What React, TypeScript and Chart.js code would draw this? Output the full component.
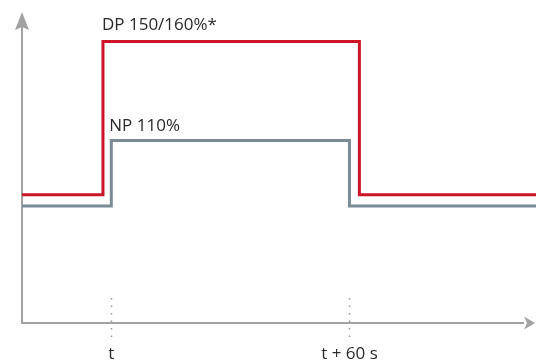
import React, { useEffect, useRef } from "react";
import { Chart, registerables } from "chart.js";

Chart.register(...registerables);

// Time axis (seconds relative to t)
const xRange = [-22.5, 107];
const levelRange = [0, 100];

// DP step series (time, level)
const dpTimes = [-22.5, -2.1, 62.5, 107];
const dpLevels = [41.2, 90.5, 41.2, 41.2];

// NP step series (time, level)
const npTimes = [-22.5, 0, 60, 107];
const npLevels = [37.6, 58.7, 37.6, 37.6];

// Marker ticks on time axis
const tickValues = [0, 60];
const tickLabels = ["t", "t + 60 s"];

// Series labels
const dpLabel = "DP 150/160%*";
const npLabel = "NP 110%";

const RED = "#cc1426";
const SLATE = "#7b8c97";
const AXIS = "#a2a2a2";
const TEXT = "#2a2a2a";
const FONT = '17px "Open Sans", sans-serif';

const axesPlugin = {
  id: "axesPlugin",
  beforeDatasetsDraw(chart: any) {
    const { ctx, chartArea } = chart;
    const xs = chart.scales.x;
    const left = chartArea.left;
    const bottom = chartArea.bottom;
    const top = chartArea.top;
    const right = chartArea.right;
    ctx.save();
    ctx.strokeStyle = AXIS;
    ctx.fillStyle = AXIS;
    ctx.lineWidth = 2;
    // y axis
    ctx.beginPath();
    ctx.moveTo(left, bottom + 1);
    ctx.lineTo(left, top + 14);
    ctx.stroke();
    ctx.beginPath();
    ctx.moveTo(left, top);
    ctx.lineTo(left + 7, top + 18);
    ctx.lineTo(left, top + 15);
    ctx.lineTo(left - 7, top + 18);
    ctx.closePath();
    ctx.fill();
    // x axis
    ctx.beginPath();
    ctx.moveTo(left - 1, bottom);
    ctx.lineTo(right - 12, bottom);
    ctx.stroke();
    ctx.beginPath();
    ctx.moveTo(right - 1, bottom);
    ctx.lineTo(right - 12, bottom - 6.5);
    ctx.lineTo(right - 9, bottom);
    ctx.lineTo(right - 12, bottom + 6.5);
    ctx.closePath();
    ctx.fill();
    // dotted markers and labels
    ctx.lineWidth = 1.5;
    ctx.setLineDash([1.5, 6]);
    ctx.strokeStyle = "#9a9a9a";
    tickValues.forEach((v) => {
      const px = Math.round(xs.getPixelForValue(v)) + 0.5;
      ctx.beginPath();
      ctx.moveTo(px, bottom - 25);
      ctx.lineTo(px, bottom + 16);
      ctx.stroke();
    });
    ctx.setLineDash([]);
    ctx.fillStyle = TEXT;
    ctx.font = FONT;
    ctx.textAlign = "center";
    ctx.textBaseline = "alphabetic";
    tickValues.forEach((v, i) => {
      const px = xs.getPixelForValue(v);
      ctx.fillText(tickLabels[i], px, bottom + 36);
    });
    ctx.restore();
  },
  afterDatasetsDraw(chart: any) {
    const { ctx } = chart;
    const xs = chart.scales.x;
    const ys = chart.scales.y;
    ctx.save();
    ctx.fillStyle = TEXT;
    ctx.font = FONT;
    ctx.textAlign = "left";
    ctx.textBaseline = "alphabetic";
    const dpX = xs.getPixelForValue(dpTimes[1]);
    const dpY = ys.getPixelForValue(dpLevels[1]);
    ctx.fillText(dpLabel, dpX - 1, dpY - 12);
    const npX = xs.getPixelForValue(npTimes[1]);
    const npY = ys.getPixelForValue(npLevels[1]);
    ctx.fillText(npLabel, npX - 2, npY - 9);
    ctx.restore();
  },
};

export default function App() {
  const ref = useRef<HTMLCanvasElement>(null);
  useEffect(() => {
    document.body.style.margin = "0";
    const canvas = ref.current!;
    const chart = new Chart(canvas, {
      type: "line",
      data: {
        datasets: [
          {
            label: dpLabel,
            data: dpTimes.map((t, i) => ({ x: t, y: dpLevels[i] })),
            borderColor: RED,
            borderWidth: 3,
            stepped: "before",
            pointRadius: 0,
            fill: false,
            borderJoinStyle: "miter",
            borderCapStyle: "butt",
          },
          {
            label: npLabel,
            data: npTimes.map((t, i) => ({ x: t, y: npLevels[i] })),
            borderColor: SLATE,
            borderWidth: 3,
            stepped: "before",
            pointRadius: 0,
            fill: false,
            borderJoinStyle: "miter",
            borderCapStyle: "butt",
          },
        ],
      },
      options: {
        animation: false,
        responsive: false,
        devicePixelRatio: 1,
        layout: { padding: { left: 22, right: 0, top: 12, bottom: 38 } },
        plugins: { legend: { display: false }, tooltip: { enabled: false } },
        scales: {
          x: { type: "linear", min: xRange[0], max: xRange[1], display: false },
          y: { type: "linear", min: levelRange[0], max: levelRange[1], display: false },
        },
      },
      plugins: [axesPlugin],
    } as any);
    return () => chart.destroy();
  }, []);
  return (
    <div style={{ position: "absolute", left: 0, top: 0, width: 536, height: 361 }}>
      <canvas ref={ref} width={536} height={361} />
    </div>
  );
}
